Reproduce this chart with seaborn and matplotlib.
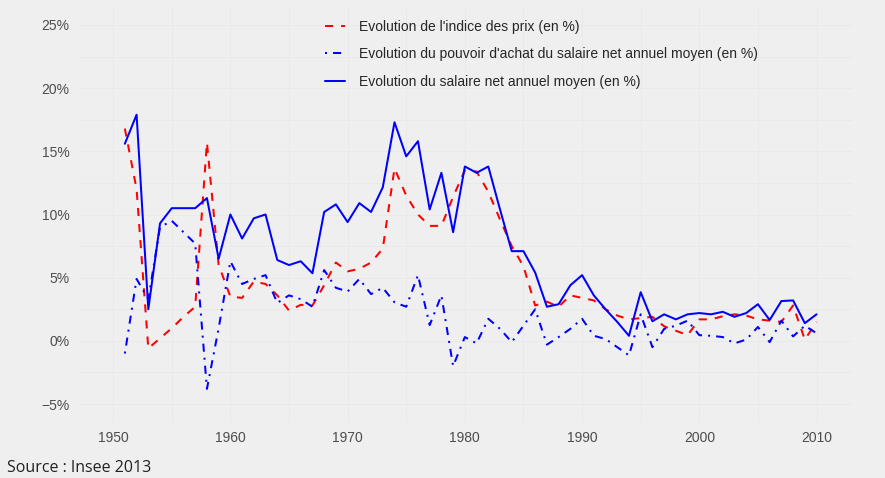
import numpy as np
import pandas as pd
import matplotlib
matplotlib.use('Agg')
import matplotlib.pyplot as plt
from matplotlib.lines import Line2D
from matplotlib.ticker import MultipleLocator, FuncFormatter
import seaborn as sns

years = list(range(1951, 2011))

prix = [16.8, 12.0, -0.6, 0.2, 1.0, 1.9, 2.7, 15.7, 6.0, 3.5,
        3.4, 4.7, 4.5, 3.6, 2.4, 2.85, 2.8, 4.4, 6.2, 5.5,
        5.7, 6.2, 7.3, 13.65, 11.5, 10.0, 9.1, 9.1, 11.4, 13.5,
        13.4, 11.8, 9.6, 7.5, 5.9, 2.8, 3.1, 2.7, 3.6, 3.4,
        3.2, 2.5, 2.0, 1.7, 1.8, 1.9, 1.15, 0.8, 0.45, 1.7,
        1.7, 1.95, 2.1, 2.0, 1.7, 1.6, 1.5, 2.8, 0.1, 1.5]

pouvoir = [-1.0, 4.9, 3.3, 9.0, 9.5, 8.6, 7.7, -3.8, 1.0, 6.3,
           4.5, 4.9, 5.2, 3.0, 3.6, 3.3, 2.7, 5.6, 4.2, 3.9,
           4.9, 3.7, 4.2, 3.05, 2.7, 5.2, 1.25, 3.6, -2.0, 0.3,
           -0.2, 1.75, 0.95, -0.1, 1.2, 2.5, -0.3, 0.3, 0.95, 1.75,
           0.4, 0.15, -0.5, -1.15, 2.1, -0.5, 0.95, 1.2, 1.6, 0.45,
           0.4, 0.3, -0.2, 0.1, 1.1, -0.1, 1.6, 0.35, 1.2, 0.6]

salaire = [15.6, 17.9, 2.5, 9.3, 10.5, 10.5, 10.5, 11.3, 6.5, 10.0,
           8.1, 9.7, 10.0, 6.4, 6.0, 6.3, 5.35, 10.2, 10.8, 9.4,
           10.9, 10.2, 12.15, 17.3, 14.6, 15.8, 10.4, 13.3, 8.6, 13.8,
           13.3, 13.8, 10.4, 7.1, 7.1, 5.4, 2.7, 2.9, 4.4, 5.2,
           3.6, 2.5, 1.5, 0.4, 3.85, 1.55, 2.1, 1.7, 2.1, 2.2,
           2.1, 2.3, 1.9, 2.2, 2.9, 1.65, 3.15, 3.2, 1.4, 2.1]

labels = ["Evolution de l'indice des prix (en %)",
          "Evolution du pouvoir d'achat du salaire net annuel moyen (en %)",
          "Evolution du salaire net annuel moyen (en %)"]

df = pd.DataFrame({'annee': years, 'prix': prix,
                   'pouvoir': pouvoir, 'salaire': salaire})

sns.set_style('white')
plt.rcParams['font.family'] = ['Liberation Sans', 'DejaVu Sans']
bg = '#efefef'

fig = plt.figure(figsize=(8.85, 4.78), dpi=100, facecolor=bg)
ax = fig.add_axes([0.0881, 0.1151, 0.8743, 0.8723])
ax.set_facecolor(bg)

styles = [('prix', '#ff0000', (0, (4, 4))),
          ('pouvoir', '#0000ff', (0, (1, 3, 4, 3))),
          ('salaire', '#0000ff', '-')]
for col, c, ls in styles:
    sns.lineplot(data=df, x='annee', y=col, color=c, linestyle=ls,
                 linewidth=1.45, ax=ax, zorder=3)

ax.set_xlim(1947, 2013)
ax.set_ylim(-6.5, 26.5)
ax.xaxis.set_major_locator(MultipleLocator(10))
ax.xaxis.set_minor_locator(MultipleLocator(5))
ax.yaxis.set_major_locator(MultipleLocator(5))
ax.yaxis.set_minor_locator(MultipleLocator(2.5))
ax.yaxis.set_major_formatter(FuncFormatter(lambda v, p: f"{int(v)}%".replace('-', '\u2212')))
ax.grid(which='both', color='#e9e9e9', linewidth=0.7)
ax.set_axisbelow(True)
for s in ax.spines.values():
    s.set_visible(False)
ax.tick_params(which='both', length=0, labelsize=10, labelcolor='#4d4d4d')
ax.tick_params(axis='y', pad=6)
ax.tick_params(axis='x', pad=6)
ax.set_xlabel('')
ax.set_ylabel('')

# legende sans cadre en haut du graphique
handles = [Line2D([], [], color=c, linestyle=ls, linewidth=1.45) for _, c, ls in styles]
fig.legend(handles, labels, loc='upper left', bbox_to_anchor=(0.367, 0.959),
           frameon=False, fontsize=10, handlelength=1.45, handletextpad=1.0,
           labelspacing=0.98, borderpad=0, borderaxespad=0)

fig.text(0.008, 0.012, 'Source : Insee 2013', fontsize=11.5,
         family=['Open Sans', 'DejaVu Sans'], color='#222222')

fig.savefig('out.png', dpi=100, facecolor=bg)
